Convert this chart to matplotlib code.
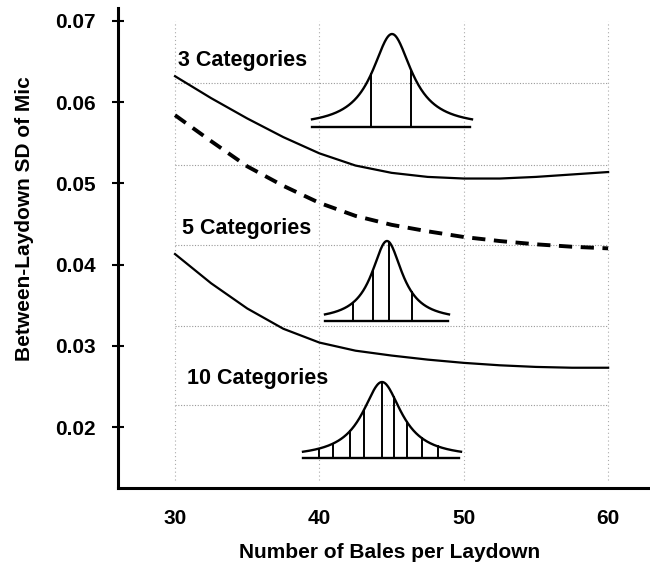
import numpy as np
import matplotlib
matplotlib.use("Agg")
from matplotlib import pyplot as plt

plt.rcParams['font.family'] = ['Liberation Sans', 'DejaVu Sans']
plt.rcParams['font.weight'] = 'bold'

# values
bales = [30, 32.5, 35, 37.5, 40, 42.5, 45, 47.5, 50, 52.5, 55, 57.5, 60]
sd_3cat = [0.0632, 0.0605, 0.0580, 0.0557, 0.0537, 0.0522, 0.0513, 0.0508, 0.0506, 0.0506, 0.0508, 0.0511, 0.0514]
sd_dashed = [0.0584, 0.0552, 0.0521, 0.0497, 0.0476, 0.0460, 0.0449, 0.0441, 0.0434, 0.0429, 0.0425, 0.0422, 0.0420]
sd_lower = [0.0413, 0.0377, 0.0346, 0.0321, 0.0304, 0.0294, 0.0288, 0.0283, 0.0279, 0.0276, 0.0274, 0.0273, 0.0273]

y_ticks = [0.02, 0.03, 0.04, 0.05, 0.06, 0.07]
y_tick_labels = ["0.02", "0.03", "0.04", "0.05", "0.06", "0.07"]
x_ticks = [30, 40, 50, 60]
x_tick_labels = ["30", "40", "50", "60"]

# the dotted grid in the scan is offset from the ticks
grid_y = [0.0227, 0.0325, 0.0424, 0.0523, 0.0624]
grid_x = [30, 40, 50, 60]

category_labels = ["3 Categories", "5 Categories", "10 Categories"]
# cut points of each little distribution sketch, as fraction of its half width
category_cuts = [
    [-0.26, 0.24],
    [-0.55, -0.23, 0.03, 0.40],
    [-0.80, -0.62, -0.41, -0.23, 0.0, 0.15, 0.32, 0.51, 0.71],
]

W, H = 650, 567
fig = plt.figure(figsize=(W / 100, H / 100), dpi=100)


def px_rect(x0, y0, x1, y1):
    # pixel box (top-left origin) -> figure fraction rect
    return [x0 / W, 1 - y1 / H, (x1 - x0) / W, (y1 - y0) / H]


ax = fig.add_axes(px_rect(118, 8, 650, 488))
ax.set_xlim(26.05, 62.9)
ax.set_ylim(0.01249, 0.0716)

for s in ['top', 'right']:
    ax.spines[s].set_visible(False)
for s in ['left', 'bottom']:
    ax.spines[s].set_linewidth(2.2)

ax.hlines(grid_y, 30, 60, colors='#999999', linestyles=(0, (1, 1.5)), linewidth=0.8, zorder=1)
ax.vlines(grid_x, 0.0135, 0.070, colors='#aaaaaa', linestyles=(0, (1, 2.5)), linewidth=0.8, zorder=1)

ax.plot(bales, sd_3cat, color='black', lw=1.6, zorder=3)
ax.plot(bales, sd_dashed, color='black', lw=2.8, dashes=(3.4, 2.2), zorder=3)
ax.plot(bales, sd_lower, color='black', lw=1.6, zorder=3)

ax.set_yticks(y_ticks)
ax.set_yticklabels(y_tick_labels)
ax.set_xticks(x_ticks)
ax.set_xticklabels(x_tick_labels)
ax.tick_params(axis='y', direction='inout', length=8, width=1.5, pad=12, labelsize=15)
ax.tick_params(axis='x', length=0, pad=15, labelsize=15)
for lab in ax.get_xticklabels() + ax.get_yticklabels():
    lab.set_fontweight('bold')

label_pos = [(30.2, 0.0651), (30.5, 0.0445), (30.8, 0.0260)]
for (lx, ly), txt in zip(label_pos, category_labels):
    ax.text(lx, ly, txt, ha='left', va='center', fontsize=15.5, fontweight='bold')

fig.text(25 / W, 1 - 219 / H, "Between-Laydown SD of Mic", rotation=90,
         ha='center', va='center', fontsize=15, fontweight='bold')
fig.text(390 / W, 1 - 552 / H, "Number of Bales per Laydown",
         ha='center', va='center', fontsize=15, fontweight='bold')

# little bell sketches: (center x, half width, peak y, base y) in pixels
sketch_boxes = [(392, 80, 34, 127), (387, 62, 241, 321), (382, 79, 382, 458)]
g = 0.3
t = np.linspace(-1, 1, 300)
for (cx, hw, top, base), cuts in zip(sketch_boxes, category_cuts):
    sa = fig.add_axes(px_rect(cx - hw, top, cx + hw, base))
    sa.set_xlim(-1, 1)
    sa.set_ylim(0, 1)
    sa.axis('off')
    bell = 1 / (1 + (t / g) ** 2)
    sa.plot(t, bell, color='black', lw=1.7, clip_on=False)
    sa.plot([-1, 0.98], [0, 0], color='black', lw=1.7, clip_on=False)
    for c in cuts:
        sa.plot([c, c], [0, 1 / (1 + (c / g) ** 2)], color='black', lw=1.4, clip_on=False)

fig.savefig("out.png", dpi=100)
